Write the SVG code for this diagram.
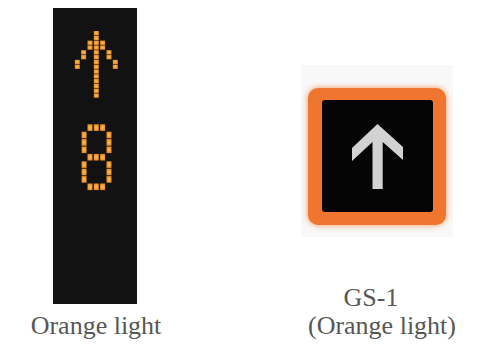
<svg xmlns="http://www.w3.org/2000/svg" width="477" height="351" viewBox="0 0 477 351">
<defs>
<radialGradient id="ledg" cx="50%" cy="50%" r="60%">
<stop offset="0" stop-color="#ffbe55"/>
<stop offset="1" stop-color="#e2861f"/>
</radialGradient>
<filter id="glow" x="-20%" y="-20%" width="140%" height="140%">
<feGaussianBlur stdDeviation="3"/>
</filter>
<style>
.la{fill:url(#ledg);}
.lbl{font-family:"Liberation Serif","Times New Roman",serif;font-size:26px;fill:#575757;text-anchor:middle;}
</style>
</defs>
<rect width="477" height="351" fill="#ffffff"/>

<g id="panel-left">
<rect x="53" y="8" width="84" height="296" fill="#121212"/>
<g id="led-arrow">
<rect class="la" x="93.8" y="31" width="5" height="4.3"/>
<rect class="la" x="93.8" y="35.8" width="5" height="4.3"/>
<rect class="la" x="93.8" y="40.6" width="5" height="4.3"/>
<rect class="la" x="93.8" y="45.4" width="5" height="4.3"/>
<rect class="la" x="93.8" y="50.2" width="5" height="4.3"/>
<rect class="la" x="93.8" y="55" width="5" height="4.3"/>
<rect class="la" x="93.8" y="59.8" width="5" height="4.3"/>
<rect class="la" x="93.8" y="64.6" width="5" height="4.3"/>
<rect class="la" x="93.8" y="69.4" width="5" height="4.3"/>
<rect class="la" x="93.8" y="74.2" width="5" height="4.3"/>
<rect class="la" x="93.8" y="79" width="5" height="4.3"/>
<rect class="la" x="93.8" y="83.8" width="5" height="4.3"/>
<rect class="la" x="93.8" y="88.6" width="5" height="4.3"/>
<rect class="la" x="93.8" y="93.4" width="5" height="4.3"/>
<rect class="la" x="87.5" y="40.6" width="5" height="4.3"/>
<rect class="la" x="87.5" y="45.4" width="5" height="4.3"/>
<rect class="la" x="100.1" y="40.6" width="5" height="4.3"/>
<rect class="la" x="100.1" y="45.4" width="5" height="4.3"/>
<rect class="la" x="81.1" y="50.2" width="5" height="4.3"/>
<rect class="la" x="81.1" y="55" width="5" height="4.3"/>
<rect class="la" x="106.5" y="50.2" width="5" height="4.3"/>
<rect class="la" x="106.5" y="55" width="5" height="4.3"/>
<rect class="la" x="74.8" y="59.8" width="5" height="4.3"/>
<rect class="la" x="74.8" y="64.6" width="5" height="4.3"/>
<rect class="la" x="112.8" y="59.8" width="5" height="4.3"/>
<rect class="la" x="112.8" y="64.6" width="5" height="4.3"/>
</g>
<g id="led-digit-8">
<rect class="la" x="87.5" y="124.3" width="5" height="6.6"/>
<rect class="la" x="93.8" y="124.3" width="5" height="6.6"/>
<rect class="la" x="100.1" y="124.3" width="5" height="6.6"/>
<rect class="la" x="81.6" y="131.7" width="5" height="6.6"/>
<rect class="la" x="81.6" y="139.1" width="5" height="6.6"/>
<rect class="la" x="81.6" y="146.5" width="5" height="6.6"/>
<rect class="la" x="106.5" y="131.7" width="5" height="6.6"/>
<rect class="la" x="106.5" y="139.1" width="5" height="6.6"/>
<rect class="la" x="106.5" y="146.5" width="5" height="6.6"/>
<rect class="la" x="87.5" y="153.9" width="5" height="6.6"/>
<rect class="la" x="93.8" y="153.9" width="5" height="6.6"/>
<rect class="la" x="100.1" y="153.9" width="5" height="6.6"/>
<rect class="la" x="81.6" y="161.3" width="5" height="6.6"/>
<rect class="la" x="81.6" y="168.7" width="5" height="6.6"/>
<rect class="la" x="81.6" y="176.1" width="5" height="6.6"/>
<rect class="la" x="106.5" y="161.3" width="5" height="6.6"/>
<rect class="la" x="106.5" y="168.7" width="5" height="6.6"/>
<rect class="la" x="106.5" y="176.1" width="5" height="6.6"/>
<rect class="la" x="87.5" y="183.5" width="5" height="6.6"/>
<rect class="la" x="93.8" y="183.5" width="5" height="6.6"/>
<rect class="la" x="100.1" y="183.5" width="5" height="6.6"/>
</g>
</g>

<g id="icon-gs1">
<rect x="301" y="65" width="152" height="172" fill="#f8f8f8"/>
<rect x="308" y="88" width="138" height="137" rx="10" fill="#f07a30" filter="url(#glow)" opacity="0.8"/>
<rect x="308" y="88" width="138" height="137" rx="10" fill="#f07630"/>
<rect x="322" y="100" width="111" height="112" rx="3" fill="#050505"/>
<polygon points="377.5,124 403,147 403,160 382.7,142 382.7,189 372.5,189 372.5,142 352,161 352,148" fill="#d2d2d2"/>
</g>

<g id="labels">
<text class="lbl" x="96" y="334">Orange light</text>
<text class="lbl" x="371" y="306">GS-1</text>
<text class="lbl" x="382" y="334">(Orange light)</text>
</g>
</svg>
